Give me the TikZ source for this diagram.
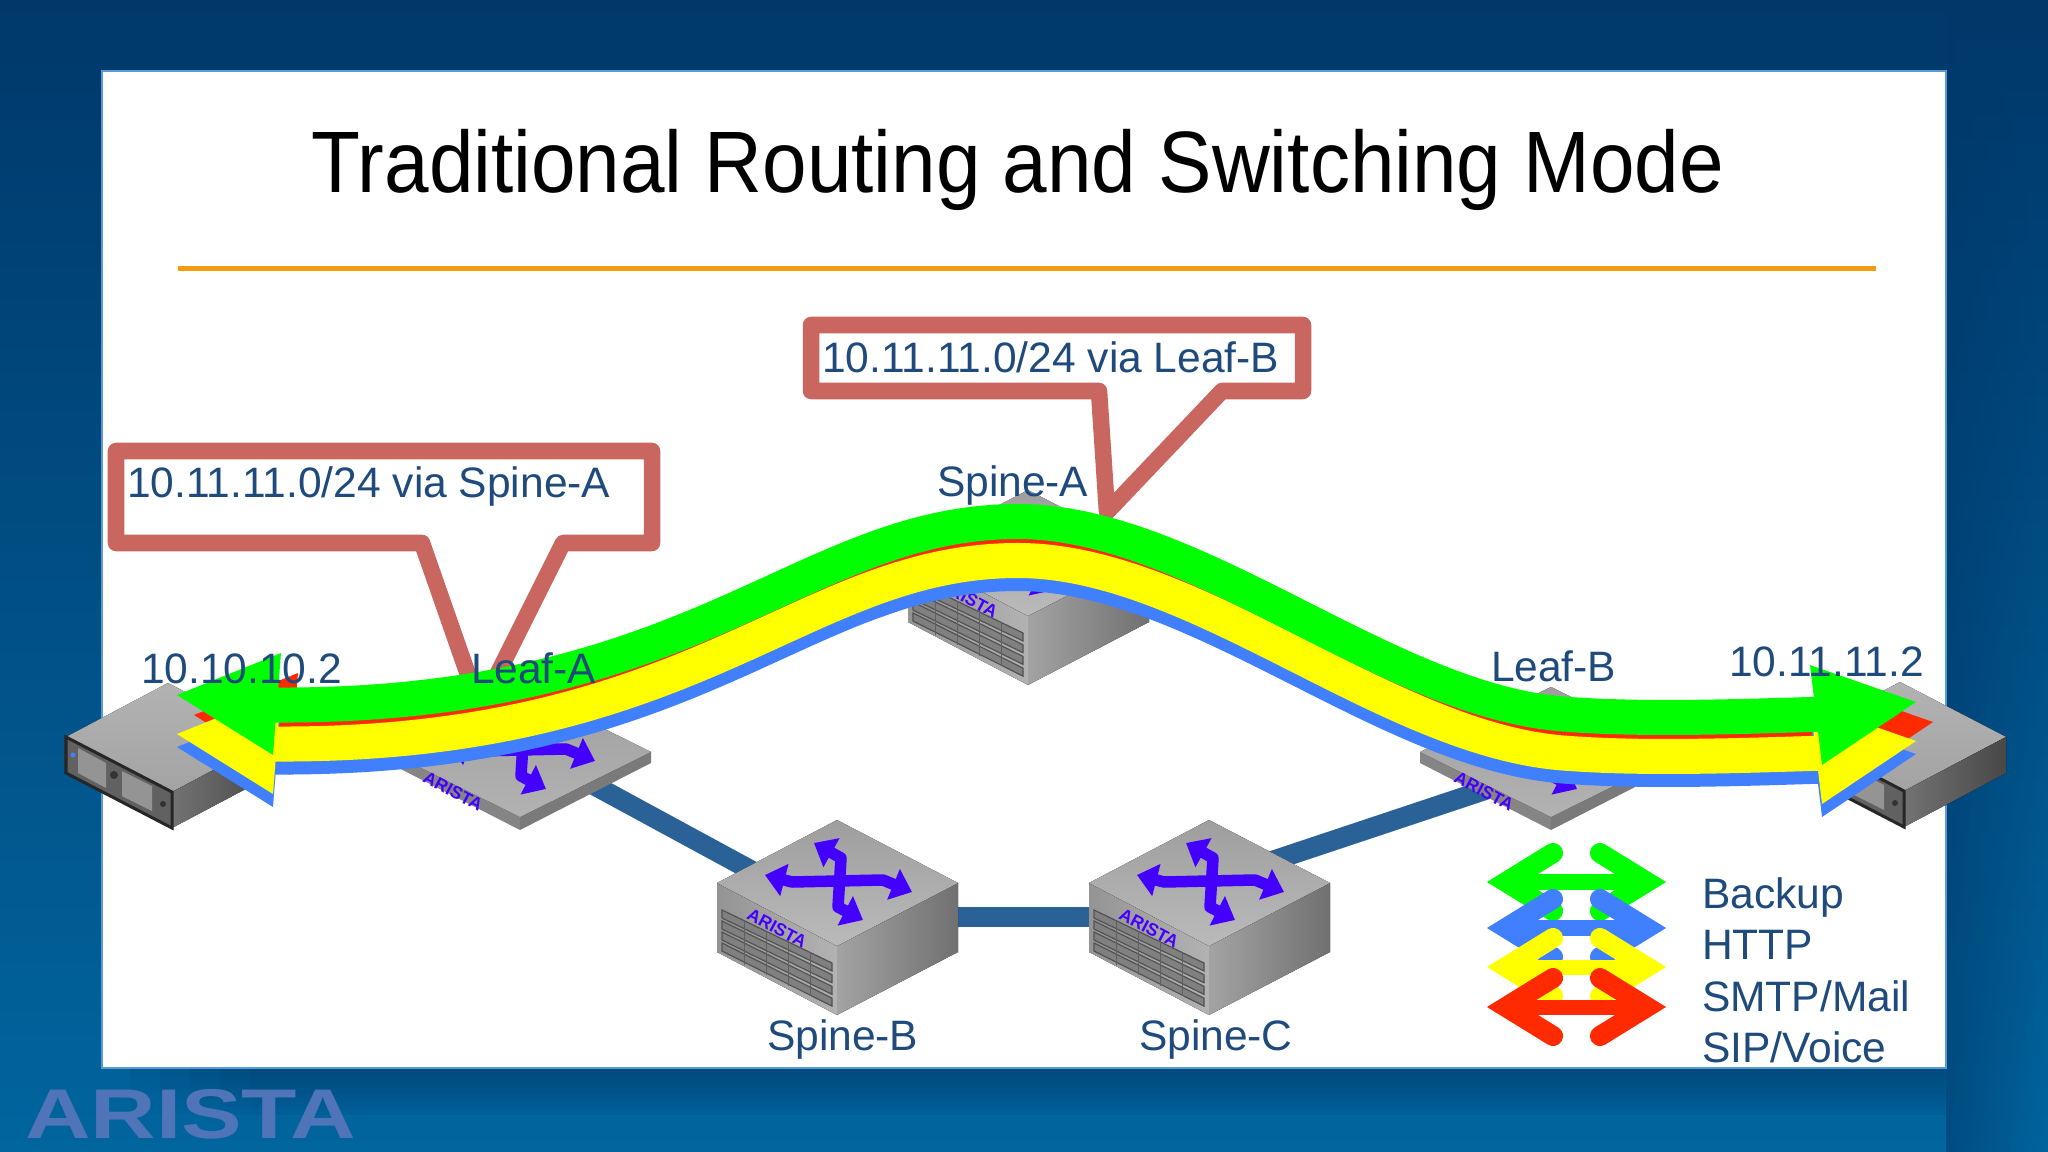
\documentclass[tikz,border=0pt]{standalone}
\usepackage{fontspec}
\setmainfont{Liberation Sans}
\usetikzlibrary{arrows.meta,fadings}
\definecolor{slideblue}{HTML}{2A6196}
\definecolor{bgtop}{HTML}{00386A}
\definecolor{bgbottom}{HTML}{01659E}
\definecolor{panelrim}{HTML}{5B9BD5}
\definecolor{ruleorange}{HTML}{F39C12}
\definecolor{calloutred}{HTML}{C96660}
\definecolor{labelblue}{HTML}{1F4A7C}
\definecolor{logoblue}{HTML}{4F74B8}
\definecolor{iconviolet}{HTML}{4400FF}
\definecolor{flowgreen}{HTML}{00FF00}
\definecolor{flowblue}{HTML}{4080FF}
\definecolor{flowyellow}{HTML}{FFFF00}
\definecolor{flowred}{HTML}{FF2A00}

% top face of a switch, with its crossing arrows
\newcommand{\switchtop}[2]{
\begin{scope}[shift={(#1,#2)}]
\draw[iconarrow] (-72,-8) -- (-45,-1) -- (46,-3) -- (75,9);
\draw[iconarrow] (-23,-40) -- (4,-25) -- (1,24) -- (26,37);
\end{scope}
}
% tall switch
\newcommand{\spinebox}[2]{
\begin{scope}[shift={(#1,#2)}]
\fill[left color=black!42, right color=black!30] (-120,0) -- (0,63) -- (0,132) -- (-120,69) -- cycle;
\fill[left color=black!36, right color=black!56] (0,63) -- (121,0) -- (121,69) -- (0,132) -- cycle;
\fill[top color=black!38, bottom color=black!27] (0,-63) -- (121,0) -- (0,63) -- (-120,0) -- cycle;
\foreach \r in {0,1,2,3}{
\draw[fill=black!50, draw=black!68, line width=.012cm] (-115,{27+11*\r}) -- (-5,{80+11.7*\r}) -- (-5,{88+11.7*\r}) -- (-115,{35+11*\r}) -- cycle;
}
\foreach \c in {-93,-71,-49,-27}{
\draw[black!62, line width=.01cm] (\c,{27+(\c+115)*.48}) -- (\c,{71+(\c+115)*.48});
}
\node[brandlabel] (brandSpine) at (-60,45) {ARISTA};
\end{scope}
\switchtop{#1}{#2}
}
% flat switch
\newcommand{\leafbox}[2]{
\begin{scope}[shift={(#1,#2)}]
\fill[black!48] (-131,0) -- (0,65) -- (0,78) -- (-131,11) -- cycle;
\fill[black!52] (0,65) -- (131,0) -- (131,11) -- (0,78) -- cycle;
\fill[top color=black!38, bottom color=black!30] (0,-65) -- (131,0) -- (0,65) -- (-131,0) -- cycle;
\node[brandlabel] (brandLeaf) at (-67,39) {ARISTA};
\end{scope}
\switchtop{#1}{#2}
}
% server, placed by its rear corner
\newcommand{\serverbox}[2]{
\begin{scope}[shift={(#1,#2)}]
\fill[top color=black!30, bottom color=black!36] (0,0) -- (106,55) -- (4,109) -- (-102,54) -- cycle;
\fill[left color=black!55, right color=black!72] (4,109) -- (106,55) -- (106,91) -- (4,145) -- cycle;
\draw[fill=black!62, draw=black!85, line width=.03cm] (-102,54) -- (4,109) -- (4,145) -- (-102,90) -- cycle;
\fill[black!42] (-90,65) -- (-62,80) -- (-62,105) -- (-90,90) -- cycle;
\fill[black!42] (-46,88) -- (-16,103) -- (-16,128) -- (-46,113) -- cycle;
\fill[black!80] (-54,92) circle (4);
\fill[black!80] (-5,121) circle (3);
\fill[flowblue] (-95,72) circle (2.5);
\end{scope}
}
% one band of traffic with both heads
\newcommand{\flowband}[3]{
\begin{scope}[shift={(#2,#3)}]
\draw[bandline, #1] (272,705) .. controls (700,708) and (800,521.5) .. (1018,521.5) .. controls (1195,521.5) and (1385,700) .. (1563,714) .. controls (1640,720) and (1730,717) .. (1826,714);
\fill[#1] (177,695) -- (281,653) -- (273,755) -- cycle;
\fill[#1] (1916,702) -- (1810,665) -- (1822,765) -- cycle;
\end{scope}
}

\begin{document}
\begin{tikzpicture}[x=.01cm, y=-.01cm,
every node/.style={inner sep=0pt, outer sep=0pt, text=labelblue},
labeltext/.style={anchor=base west, font=\fontsize{12.1}{14}\selectfont},
linkline/.style={slideblue, line width=.2cm},
calloutbox/.style={draw=calloutred, fill=white, line width=.165cm, line join=round},
bandline/.style={line width=.35cm},
iconarrow/.style={iconviolet, line width=.115cm, line join=round, {Triangle[length=.2cm,width=.32cm]}-{Triangle[length=.2cm,width=.32cm]}},
brandlabel/.style={rotate=-28, text=iconviolet, font=\fontsize{5}{6}\selectfont\bfseries},
legendarrow/.style={line width=.2cm, line cap=round, miter limit=10}]
\useasboundingbox (0,0) rectangle (2048,1152);
%================================================================
%	Slide
\shade[top color=bgtop, bottom color=bgbottom] (0,0) rectangle (2048,1152);
\fill[bgtop, opacity=.55, path fading=east] (1946,0) rectangle (2048,1152);
\foreach \xstart in {130,160,190,220,250}{
\fill[bgtop, opacity=.14, path fading=south] (\xstart,1068) rectangle (1946,1115);
}
\draw[fill=white, draw=panelrim, line width=.025cm] (102,71) rectangle (1946,1068);
\draw[ruleorange, line width=.05cm] (178,269) -- (1876,269);
\node[anchor=base, text=black, xscale=.918, font=\fontsize{24.8}{30}\selectfont] (title) at (1018,193) {Traditional Routing and Switching Mode};
\node[anchor=base west, text=logoblue, xscale=1.29, font=\fontsize{20}{24}\selectfont\bfseries] (logo) at (25,1138) {ARISTA};

%================================================================
%	Links
\coordinate (leafA) at (520,745);
\coordinate (leafAport) at (520,735);
\coordinate (leafB) at (1551,768);
\coordinate (spineA) at (1028,554);
\coordinate (spineB) at (837,917);
\coordinate (spineC) at (1209,917);
\coordinate (spineCport) at (1209,882);

\draw[linkline] (leafAport) -- (spineA);
\draw[linkline] (leafA) -- (spineB);
\draw[linkline] (spineB) -- (spineC);
\draw[linkline] (spineCport) -- (leafB);

%================================================================
%	Devices
\spinebox{1028}{553}
\spinebox{837}{883}
\spinebox{1209}{883}
\leafbox{520}{752}
\leafbox{1551}{752}
\serverbox{168}{683}
\serverbox{1900}{682}

%================================================================
%	Callouts
\draw[calloutbox] (116,451) -- (652,451) -- (652,543) -- (563,543) -- (480,709) -- (422,543) -- (116,543) -- cycle;
\draw[calloutbox] (811,325) -- (1303,325) -- (1303,391) -- (1222,391) -- (1107,512) -- (1099,391) -- (811,391) -- cycle;

%================================================================
%	Traffic
\flowband{flowred}{17}{20}
\flowband{flowblue}{0}{52}
\flowband{flowyellow}{0}{39}
\flowband{flowgreen}{0}{0}

%================================================================
%	Legend
\foreach \col/\ypos in {flowgreen/882, flowblue/928, flowyellow/967, flowred/1007}{
\draw[legendarrow, \col] (1553,\ypos-29) -- (1506,\ypos) -- (1553,\ypos+29);
\draw[legendarrow, \col] (1600,\ypos-29) -- (1647,\ypos) -- (1600,\ypos+29);
\draw[\col, line width=.15cm] (1506,\ypos) -- (1647,\ypos);
}

%================================================================
%	Labels
\node[labeltext] (routeA) at (127,498) {10.11.11.0/24 via Spine-A};
\node[labeltext] (routeB) at (822,373) {10.11.11.0/24 via Leaf-B};
\node[labeltext] (nameSpineA) at (937,497) {Spine-A};
\node[labeltext] (hostA) at (141,683) {10.10.10.2};
\node[labeltext] (nameLeafA) at (471,683) {Leaf-A};
\node[labeltext] (nameLeafB) at (1491,682) {Leaf-B};
\node[labeltext] (hostB) at (1729,676) {10.11.11.2};
\node[labeltext] (nameSpineB) at (767,1050) {Spine-B};
\node[labeltext] (nameSpineC) at (1139,1050) {Spine-C};

\node[labeltext] (keyBackup) at (1702,908) {Backup};
\node[labeltext] (keyHttp) at (1702,959) {HTTP};
\node[labeltext] (keySmtp) at (1702,1011) {SMTP/Mail};
\node[labeltext] (keySip) at (1702,1062) {SIP/Voice};
%================================================================
\end{tikzpicture}
\end{document}
